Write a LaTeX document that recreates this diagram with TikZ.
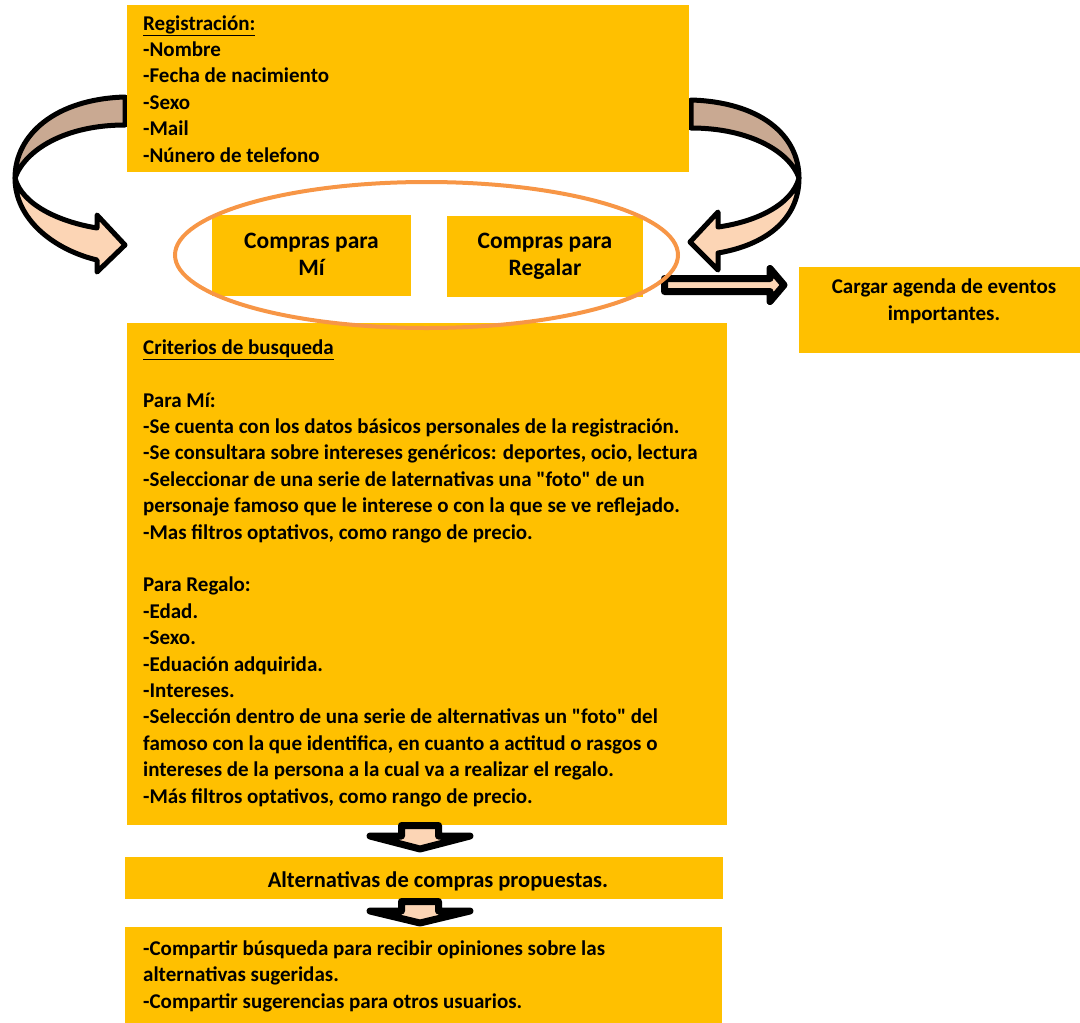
\documentclass[tikz,border=0pt]{standalone}
\usepackage{fontspec}
\setmainfont{Carlito}
\usepackage{tikz}
\definecolor{boxfill}{RGB}{255,192,0}
\definecolor{bandback}{RGB}{201,169,146}
\definecolor{bandfront}{RGB}{252,213,181}
\definecolor{ringline}{RGB}{247,150,70}
\newcommand{\qq}[1]{\textquotedbl#1\textquotedbl}
\tikzset{
  box/.style={fill=boxfill, inner sep=0pt, anchor=north west},
  txt/.style={align=left, inner sep=0pt, anchor=base west, font=\bfseries\fontsize{21}{26.4}\selectfont},
  ctxt/.style={align=center, inner sep=0pt, anchor=base, font=\bfseries\fontsize{21}{27}\selectfont},
  big/.style={font=\bfseries\fontsize{23.5}{27}\selectfont},
  band/.style={draw=black, line width=5pt, line join=round},
  block/.style={draw=black, line width=7pt, line join=round, fill=bandfront},
}
\begin{document}
\begin{tikzpicture}[x=1pt,y=-1pt]
\useasboundingbox (0,0) rectangle (1080,1023);

\draw[band, fill=bandback] (125,97) .. controls (55,99) and (15,135) .. (15,178) .. controls (25,150) and (65,125) .. (125,125) -- cycle;
\draw[band, fill=bandfront] (15,178) .. controls (15,220) and (55,250) .. (97,260) -- (97,272) -- (125,245) -- (97,215) -- (97,228) .. controls (60,222) and (22,205) .. (15,178) -- cycle;
\draw[band, fill=bandback] (691,100) .. controls (760,102) and (799,135) .. (799,178) .. controls (790,152) and (750,128) .. (691,128) -- cycle;
\draw[band, fill=bandfront] (799,178) .. controls (799,220) and (765,245) .. (718,253) -- (718,270) -- (690,242) -- (718,212) -- (718,227) .. controls (755,222) and (792,205) .. (799,178) -- cycle;

\node[box, minimum width=562pt, minimum height=167pt] (reg) at (127,5) {};
\node[box, minimum width=199pt, minimum height=81pt] (mi) at (212,215) {};
\node[box, minimum width=196pt, minimum height=81pt] (regalar) at (447,216) {};
\node[box, minimum width=281pt, minimum height=86pt] (cargar) at (799,267) {};
\node[box, minimum width=600pt, minimum height=502pt] (crit) at (127,323) {};
\node[box, minimum width=598pt, minimum height=42pt] (alt) at (125,857) {};
\node[box, minimum width=597pt, minimum height=96pt] (comp) at (125,927) {};

\node[txt] (regtxt) at (143,162) {\underline{Registración:}\\-Nombre\\-Fecha de nacimiento\\-Sexo\\-Mail\\-Núnero de telefono};
\node[ctxt, big] (mitxt) at (311.5,275) {Compras para\\Mí};
\node[ctxt, big] (regalartxt) at (545,275) {Compras para\\Regalar};
\node[ctxt] (cargartxt) at (944,320) {Cargar agenda de eventos\\importantes.};
\node[txt] (crittxt) at (143,803) {\underline{Criterios de busqueda}\\ \\Para Mí:\\-Se cuenta con los datos básicos personales de la registración.\\-Se consultara sobre intereses genéricos: deportes, ocio, lectura\\-Seleccionar de una serie de laternativas una \qq{foto} de un\\personaje famoso que le interese o con la que se ve reflejado.\\-Mas filtros optativos, como rango de precio.\\ \\Para Regalo:\\-Edad.\\-Sexo.\\-Eduación adquirida.\\-Intereses.\\-Selección dentro de una serie de alternativas un \qq{foto} del\\famoso con la que identifica, en cuanto a actitud o rasgos o\\intereses de la persona a la cual va a realizar el regalo.\\-Más filtros optativos, como rango de precio.};
\node[ctxt, font=\bfseries\fontsize{22.5}{27}\selectfont] (alttxt) at (438,887) {Alternativas de compras propuestas.};
\node[txt] (comptxt) at (143,1008) {-Compartir búsqueda para recibir opiniones sobre las\\alternativas sugeridas.\\-Compartir sugerencias para otros usuarios.};

\draw[block] (401.5,825.5) -- (438.5,825.5) -- (438.5,836) -- (470,836) -- (420,849) -- (370,836) -- (401.5,836) -- cycle;
\draw[block] (401.5,901.5) -- (438.5,901.5) -- (438.5,911) -- (470,911) -- (420,923) -- (370,911) -- (401.5,911) -- cycle;
\draw[block] (664.5,278.5) -- (770,278.5) -- (770,268.5) -- (784,285) -- (770,301.5) -- (770,291.5) -- (664.5,291.5) -- cycle;

\draw[ringline, line width=4pt] (426.5,255) ellipse [x radius=251.5, y radius=73];
\end{tikzpicture}
\end{document}
